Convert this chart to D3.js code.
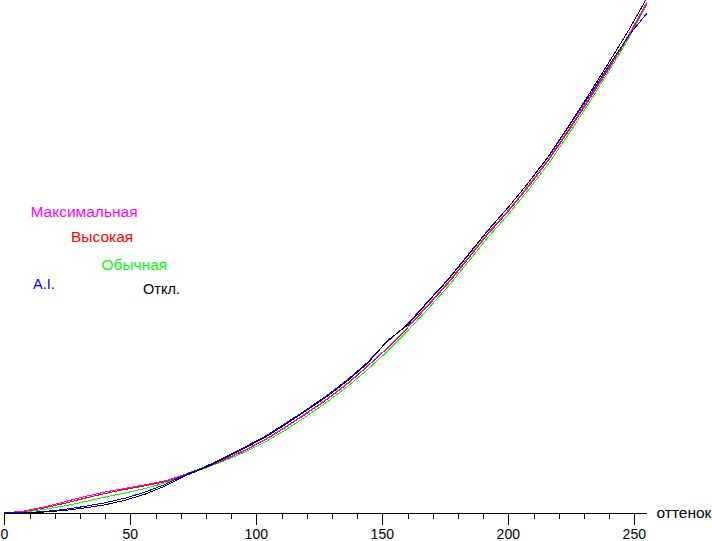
<!DOCTYPE html>
<html>
<head>
<meta charset="utf-8">
<script src="https://cdn.jsdelivr.net/npm/d3@7"></script>
<style>
  html, body { margin: 0; padding: 0; background: #fff; }
  svg { display: block; }
  text { font-family: "Liberation Sans", Arial, sans-serif; font-size: 14px; }
</style>
</head>
<body>
<svg id="chart" width="712" height="541"></svg>
<script>
// Input level (0..255)
const levels = [0,8,16,24,32,40,48,56,64,72,80,88,96,104,112,120,128,136,144,152,160,168,176,184,192,200,208,216,224,232,240,248,255];

// Relative brightness (%) per mode
const maxSeries   = [0,0.4,1.2,2.2,3.2,4.1,4.8,5.5,6.3,7.6,9.0,10.6,12.4,14.5,16.9,19.5,22.2,25.2,28.6,32.2,36.2,40.5,44.9,49.7,54.6,59.0,63.8,69.0,74.8,80.8,87.0,93.4,99.6];
const highSeries  = [0,0.3,1.0,1.9,2.9,3.8,4.6,5.3,6.1,7.5,8.9,10.5,12.3,14.4,16.8,19.4,22.1,25.1,28.5,32.1,36.1,40.3,44.7,49.5,54.4,58.8,63.6,68.8,74.5,80.5,86.7,93.1,99.4];
const normSeries  = [0,0.2,0.7,1.4,2.2,3.1,3.9,4.8,5.9,7.4,8.8,10.3,12.0,14.0,16.3,18.9,21.6,24.6,27.9,31.5,35.5,39.7,44.1,48.9,53.8,58.2,63.0,68.1,73.9,79.9,86.2,92.7,99.2];
const aiSeries    = [0,0.05,0.3,0.7,1.3,2.0,2.9,4.1,5.6,7.5,9.1,11.0,13.0,15.1,17.6,20.2,22.9,25.9,29.3,33.4,36.8,41.2,45.5,50.3,55.2,59.6,64.4,69.5,75.3,81.2,87.3,93.2,97.4];
const offSeries   = [0,0.0,0.2,0.5,1.0,1.6,2.5,3.7,5.3,7.3,8.9,10.8,12.8,14.9,17.4,20.0,22.7,25.7,29.1,33.6,36.6,41.1,45.4,50.2,55.1,59.6,64.4,69.6,75.5,81.6,87.9,94.3,100.4];

const seriesNames  = ["Максимальная", "Высокая", "Обычная", "A.I.", "Откл."];
const seriesColors = ["#ff00ff", "#ff0000", "#00ff00", "#0000ff", "#000000"];
const seriesValues = [maxSeries, highSeries, normSeries, aiSeries, offSeries];

const majorTicks = [0, 50, 100, 150, 200, 250];
const minorTicks = [0,10,20,30,40,50,60,70,80,90,100,110,120,130,140,150,160,170,180,190,200,210,220,230,240,250];
const axisTitle = "оттенок";

const svg = d3.select("#chart");
const x = d3.scaleLinear().domain([0, 255]).range([4.3, 646.9]);
const y = d3.scaleLinear().domain([0, 100]).range([513, 0]);

// curves
const line = d3.line().x(d => x(d[0])).y(d => y(d[1]));
const drawOrder = [2, 1, 0, 3, 4];
drawOrder.forEach(i => {
  const pts = levels.map((l, k) => [l, seriesValues[i][k]]);
  svg.append("path")
    .datum(pts)
    .attr("d", line)
    .attr("fill", "none")
    .attr("stroke", seriesColors[i])
    .attr("stroke-width", 1)
    .attr("shape-rendering", "crispEdges");
});

// x axis
const axisY = 513;
svg.append("line")
  .attr("x1", x(0)).attr("x2", x(255))
  .attr("y1", axisY + 0.5).attr("y2", axisY + 0.5)
  .attr("stroke", "#000").attr("shape-rendering", "crispEdges");

svg.selectAll(".minor").data(minorTicks).enter().append("line")
  .attr("x1", d => Math.round(x(d)) + 0.5).attr("x2", d => Math.round(x(d)) + 0.5)
  .attr("y1", axisY).attr("y2", d => majorTicks.includes(d) ? axisY + 12 : axisY + 6)
  .attr("stroke", "#000").attr("shape-rendering", "crispEdges");

svg.selectAll(".tl").data(majorTicks).enter().append("text")
  .attr("x", d => x(d))
  .attr("y", 539)
  .attr("text-anchor", "middle")
  .attr("fill", "#000")
  .text(d => d);

svg.append("text")
  .attr("x", 656.5).attr("y", 518)
  .attr("fill", "#000")
  .style("font-size", "15.5px")
  .text(axisTitle);

// legend labels
const labelPos = [[30.5, 216.5], [71, 241.5], [101.5, 270], [33, 289], [143, 294]];
const labelSize = [15.5, 15.5, 15.5, 14.5, 14.5];
seriesNames.forEach((n, i) => {
  svg.append("text")
    .attr("x", labelPos[i][0]).attr("y", labelPos[i][1])
    .attr("fill", seriesColors[i])
    .style("font-size", labelSize[i] + "px")
    .text(n);
});
</script>
</body>
</html>
